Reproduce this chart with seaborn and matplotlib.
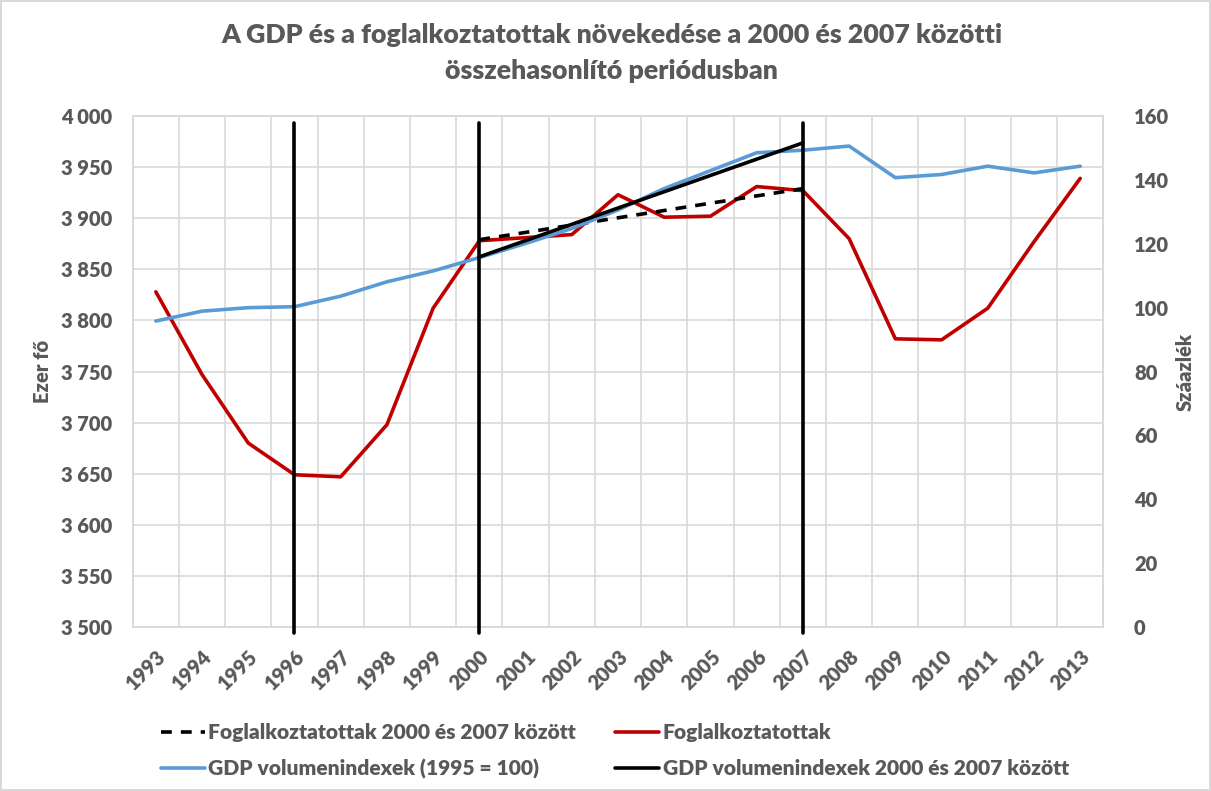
import numpy as np
import pandas as pd
import matplotlib
matplotlib.use("Agg")
import matplotlib.pyplot as plt
from matplotlib.lines import Line2D
import seaborn as sns

years = list(range(1993, 2014))
employed = [3828, 3747, 3680, 3649, 3647, 3698, 3812, 3878, 3881, 3884, 3923, 3901,
            3902, 3931, 3927, 3880, 3782, 3781, 3812, 3877, 3939]
gdp_index = [95.8, 98.9, 100.0, 100.3, 103.6, 108.1, 111.5, 115.7, 120.1, 124.8, 130.6,
             137.3, 142.9, 148.5, 149.3, 150.6, 140.7, 141.7, 144.3, 142.2, 144.3]
trend_years = [2000, 2007]
employed_trend = [3879, 3929]
gdp_trend = [115.9, 151.6]
marker_years = [1996, 2000, 2007]

left_ticks = list(range(3500, 4001, 50))
right_ticks = list(range(0, 161, 20))

GRAY = "#595959"
GRID = "#D9D9D9"
RED = "#C00000"
BLUE = "#5B9BD5"
W = "heavy"

sns.set_theme(style="white")
plt.rcParams['font.family'] = ['Lato', 'DejaVu Sans']
plt.rcParams['font.weight'] = W

fig = plt.figure(figsize=(12.11, 7.91), dpi=100)
fig.patch.set_edgecolor(GRID)
fig.patch.set_linewidth(1.5)
ax = fig.add_axes([0.1096, 0.2073, 0.9111 - 0.1096, 0.8533 - 0.2073])
ax2 = ax.twinx()

df = pd.DataFrame({"year": years, "employed": employed, "gdp": gdp_index})
dft = pd.DataFrame({"year": trend_years, "emp": employed_trend, "gdp": gdp_trend})

sns.lineplot(data=df, x="year", y="employed", ax=ax, color=RED, lw=2.6, zorder=3)
sns.lineplot(data=dft, x="year", y="emp", ax=ax, color="black", lw=2.6,
             linestyle=(0, (3, 2.5)), zorder=4)
sns.lineplot(data=df, x="year", y="gdp", ax=ax2, color=BLUE, lw=2.6, zorder=3)
sns.lineplot(data=dft, x="year", y="gdp", ax=ax2, color="black", lw=2.6, zorder=4)

for yr in marker_years:
    ax2.axvline(yr, ymin=-0.012, ymax=0.986, color="black", lw=2.6, clip_on=False, zorder=5)

ax.set_xlim(years[0] - 0.5, years[-1] + 0.5)
ax.set_ylim(3500, 4000)
ax2.set_ylim(0, 160)
ax.set_yticks(left_ticks)
ax.set_yticklabels([f"{v:,}".replace(",", " ") for v in left_ticks])
ax2.set_yticks(right_ticks)
ax.set_xticks(years)
ax.set_xticklabels([str(y) for y in years], rotation=45, ha="right",
                   rotation_mode="anchor")
ax.set_xticks([y + 0.5 for y in years[:-1]], minor=True)

ax.grid(True, which="major", axis="y", color=GRID, lw=1.2)
ax.grid(True, which="minor", axis="x", color=GRID, lw=1.2)
ax.grid(False, which="major", axis="x")
ax2.grid(False)
ax.set_axisbelow(True)

for a in (ax, ax2):
    for s in a.spines.values():
        s.set_color(GRID)
        s.set_linewidth(1.2)

ax.tick_params(axis="y", length=0, pad=15, labelsize=14.5, labelcolor=GRAY)
ax2.tick_params(axis="y", length=0, pad=22, labelsize=14.5, labelcolor=GRAY)
ax.tick_params(axis="x", which="both", length=0, pad=14, labelsize=14.5, labelcolor=GRAY)
for lab in ax.get_yticklabels() + ax2.get_yticklabels() + ax.get_xticklabels():
    lab.set_fontweight(W)

ax.set_xlabel("")
ax.set_ylabel("Ezer fő", fontsize=14.5, color=GRAY, fontweight=W, labelpad=6)
ax2.set_ylabel("Száazlék", fontsize=14.5, color=GRAY, fontweight=W, labelpad=5)

fig.text(0.505, 1 - 23 / 791,
         "A GDP és a foglalkoztatottak növekedése a 2000 és 2007 közötti\n"
         "összehasonlító periódusban",
         ha="center", va="top", fontsize=19.3, fontweight=W, color=GRAY,
         linespacing=1.6)

handles = [
    Line2D([], [], color="black", lw=2.6, linestyle=(0, (3, 2.5))),
    Line2D([], [], color=BLUE, lw=2.6),
    Line2D([], [], color=RED, lw=2.6),
    Line2D([], [], color="black", lw=2.6),
]
labels = [
    "Foglalkoztatottak 2000 és 2007 között",
    "GDP volumenindexek (1995 = 100)",
    "Foglalkoztatottak",
    "GDP volumenindexek 2000 és 2007 között",
]
leg = fig.legend(handles, labels, ncol=2, loc="center left",
                 bbox_to_anchor=(0.117, 1 - 751 / 791), frameon=False,
                 prop={"size": 15.1, "weight": W}, labelcolor=GRAY,
                 handlelength=2.1, handletextpad=0.15, columnspacing=1.9,
                 labelspacing=0.8)

fig.savefig("out.png", dpi=100)
